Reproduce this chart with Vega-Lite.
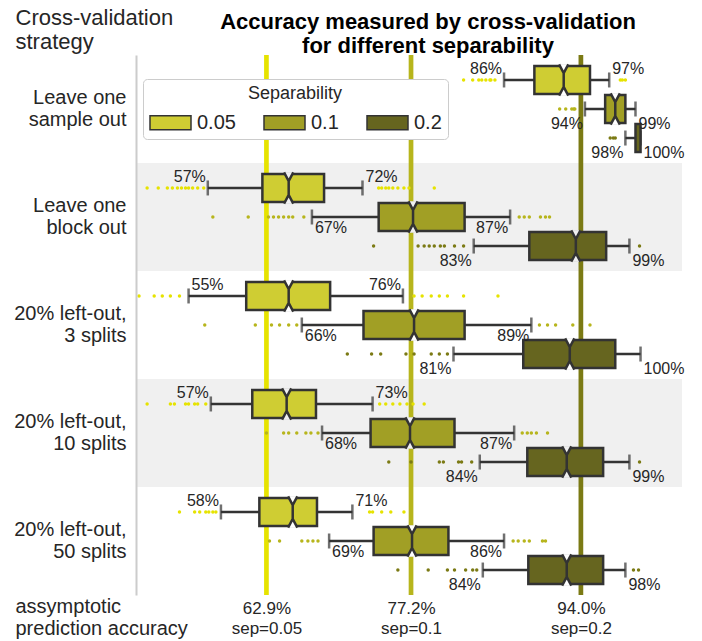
{
  "$schema": "https://vega.github.io/schema/vega-lite/v6.json",
  "width": 546,
  "height": 540,
  "autosize": {"type": "none"},
  "padding": {"left": 136, "top": 55, "right": 20, "bottom": 46},
  "background": "white",
  "config": {"view": {"stroke": null}, "font": "Liberation Sans"},
  "title": {
    "text": ["Accuracy measured by cross-validation", "for different separability"],
    "font": "Liberation Sans",
    "fontSize": 22,
    "fontWeight": "bold",
    "lineHeight": 24,
    "color": "black",
    "anchor": "middle",
    "frame": "group",
    "dx": 19,
    "dy": 56
  },
  "datasets": {
    "boxes": [
      {"strategy": "Leave one sample out", "sep": "0.05", "wlo": 86.4, "q1": 89.4, "med": 92.3, "q3": 94.9, "whi": 96.8, "lolab": "86%", "hilab": "97%"},
      {"strategy": "Leave one sample out", "sep": "0.1", "wlo": 94.4, "q1": 96.4, "med": 97.4, "q3": 98.4, "whi": 99.4, "lolab": "94%", "hilab": "99%"},
      {"strategy": "Leave one sample out", "sep": "0.2", "wlo": 98.4, "q1": 99.4, "med": 99.7, "q3": 99.9, "whi": 99.9, "lolab": "98%", "hilab": "100%"},
      {"strategy": "Leave one block out", "sep": "0.05", "wlo": 57.1, "q1": 62.5, "med": 65.1, "q3": 68.6, "whi": 72.4, "lolab": "57%", "hilab": "72%"},
      {"strategy": "Leave one block out", "sep": "0.1", "wlo": 67.4, "q1": 74.0, "med": 77.4, "q3": 82.5, "whi": 87.0, "lolab": "67%", "hilab": "87%"},
      {"strategy": "Leave one block out", "sep": "0.2", "wlo": 83.4, "q1": 88.9, "med": 93.5, "q3": 96.5, "whi": 98.8, "lolab": "83%", "hilab": "99%"},
      {"strategy": "20% left-out, 3 splits", "sep": "0.05", "wlo": 55.2, "q1": 60.9, "med": 65.1, "q3": 69.2, "whi": 76.4, "lolab": "55%", "hilab": "76%"},
      {"strategy": "20% left-out, 3 splits", "sep": "0.1", "wlo": 66.4, "q1": 72.5, "med": 77.5, "q3": 82.5, "whi": 89.1, "lolab": "66%", "hilab": "89%"},
      {"strategy": "20% left-out, 3 splits", "sep": "0.2", "wlo": 81.4, "q1": 88.3, "med": 92.9, "q3": 97.4, "whi": 99.9, "lolab": "81%", "hilab": "100%"},
      {"strategy": "20% left-out, 10 splits", "sep": "0.05", "wlo": 57.4, "q1": 61.5, "med": 64.9, "q3": 67.8, "whi": 73.4, "lolab": "57%", "hilab": "73%"},
      {"strategy": "20% left-out, 10 splits", "sep": "0.1", "wlo": 68.4, "q1": 73.2, "med": 77.1, "q3": 81.5, "whi": 87.4, "lolab": "68%", "hilab": "87%"},
      {"strategy": "20% left-out, 10 splits", "sep": "0.2", "wlo": 84.0, "q1": 88.7, "med": 92.6, "q3": 96.2, "whi": 98.8, "lolab": "84%", "hilab": "99%"},
      {"strategy": "20% left-out, 50 splits", "sep": "0.05", "wlo": 58.4, "q1": 62.2, "med": 65.5, "q3": 67.9, "whi": 71.4, "lolab": "58%", "hilab": "71%"},
      {"strategy": "20% left-out, 50 splits", "sep": "0.1", "wlo": 69.1, "q1": 73.5, "med": 77.3, "q3": 80.9, "whi": 86.4, "lolab": "69%", "hilab": "86%"},
      {"strategy": "20% left-out, 50 splits", "sep": "0.2", "wlo": 84.3, "q1": 88.8, "med": 92.6, "q3": 96.2, "whi": 98.4, "lolab": "84%", "hilab": "98%"}
    ],
    "asym": [
      {"sep": "0.05", "acc": 62.9},
      {"sep": "0.1", "acc": 77.2},
      {"sep": "0.2", "acc": 94.0}
    ],
    "dots": [
      {"strategy": "Leave one sample out", "sep": "0.05", "acc": 82.4},
      {"strategy": "Leave one sample out", "sep": "0.05", "acc": 83.3},
      {"strategy": "Leave one sample out", "sep": "0.05", "acc": 83.9},
      {"strategy": "Leave one sample out", "sep": "0.05", "acc": 84.2},
      {"strategy": "Leave one sample out", "sep": "0.05", "acc": 84.6},
      {"strategy": "Leave one sample out", "sep": "0.05", "acc": 85.0},
      {"strategy": "Leave one sample out", "sep": "0.05", "acc": 85.1},
      {"strategy": "Leave one sample out", "sep": "0.05", "acc": 85.5},
      {"strategy": "Leave one sample out", "sep": "0.05", "acc": 97.9},
      {"strategy": "Leave one sample out", "sep": "0.05", "acc": 98.1},
      {"strategy": "Leave one sample out", "sep": "0.05", "acc": 98.4},
      {"strategy": "Leave one sample out", "sep": "0.1", "acc": 91.9},
      {"strategy": "Leave one sample out", "sep": "0.1", "acc": 92.5},
      {"strategy": "Leave one sample out", "sep": "0.1", "acc": 93.1},
      {"strategy": "Leave one sample out", "sep": "0.1", "acc": 93.3},
      {"strategy": "Leave one sample out", "sep": "0.1", "acc": 93.4},
      {"strategy": "Leave one sample out", "sep": "0.2", "acc": 96.9},
      {"strategy": "Leave one sample out", "sep": "0.2", "acc": 97.2},
      {"strategy": "Leave one sample out", "sep": "0.2", "acc": 97.4},
      {"strategy": "Leave one block out", "sep": "0.05", "acc": 51.1},
      {"strategy": "Leave one block out", "sep": "0.05", "acc": 52.2},
      {"strategy": "Leave one block out", "sep": "0.05", "acc": 53.1},
      {"strategy": "Leave one block out", "sep": "0.05", "acc": 53.6},
      {"strategy": "Leave one block out", "sep": "0.05", "acc": 54.1},
      {"strategy": "Leave one block out", "sep": "0.05", "acc": 54.5},
      {"strategy": "Leave one block out", "sep": "0.05", "acc": 54.9},
      {"strategy": "Leave one block out", "sep": "0.05", "acc": 55.2},
      {"strategy": "Leave one block out", "sep": "0.05", "acc": 55.6},
      {"strategy": "Leave one block out", "sep": "0.05", "acc": 56.1},
      {"strategy": "Leave one block out", "sep": "0.05", "acc": 56.7},
      {"strategy": "Leave one block out", "sep": "0.05", "acc": 74.0},
      {"strategy": "Leave one block out", "sep": "0.05", "acc": 74.3},
      {"strategy": "Leave one block out", "sep": "0.05", "acc": 74.7},
      {"strategy": "Leave one block out", "sep": "0.05", "acc": 75.0},
      {"strategy": "Leave one block out", "sep": "0.05", "acc": 75.4},
      {"strategy": "Leave one block out", "sep": "0.05", "acc": 75.9},
      {"strategy": "Leave one block out", "sep": "0.05", "acc": 76.5},
      {"strategy": "Leave one block out", "sep": "0.05", "acc": 77.0},
      {"strategy": "Leave one block out", "sep": "0.05", "acc": 79.5},
      {"strategy": "Leave one block out", "sep": "0.1", "acc": 57.6},
      {"strategy": "Leave one block out", "sep": "0.1", "acc": 61.1},
      {"strategy": "Leave one block out", "sep": "0.1", "acc": 63.1},
      {"strategy": "Leave one block out", "sep": "0.1", "acc": 63.6},
      {"strategy": "Leave one block out", "sep": "0.1", "acc": 64.1},
      {"strategy": "Leave one block out", "sep": "0.1", "acc": 64.6},
      {"strategy": "Leave one block out", "sep": "0.1", "acc": 65.1},
      {"strategy": "Leave one block out", "sep": "0.1", "acc": 65.5},
      {"strategy": "Leave one block out", "sep": "0.1", "acc": 66.6},
      {"strategy": "Leave one block out", "sep": "0.1", "acc": 87.9},
      {"strategy": "Leave one block out", "sep": "0.1", "acc": 88.4},
      {"strategy": "Leave one block out", "sep": "0.1", "acc": 88.9},
      {"strategy": "Leave one block out", "sep": "0.1", "acc": 90.0},
      {"strategy": "Leave one block out", "sep": "0.1", "acc": 90.5},
      {"strategy": "Leave one block out", "sep": "0.1", "acc": 90.9},
      {"strategy": "Leave one block out", "sep": "0.2", "acc": 73.5},
      {"strategy": "Leave one block out", "sep": "0.2", "acc": 77.9},
      {"strategy": "Leave one block out", "sep": "0.2", "acc": 78.5},
      {"strategy": "Leave one block out", "sep": "0.2", "acc": 79.0},
      {"strategy": "Leave one block out", "sep": "0.2", "acc": 79.5},
      {"strategy": "Leave one block out", "sep": "0.2", "acc": 80.1},
      {"strategy": "Leave one block out", "sep": "0.2", "acc": 80.5},
      {"strategy": "Leave one block out", "sep": "0.2", "acc": 81.5},
      {"strategy": "Leave one block out", "sep": "0.2", "acc": 82.4},
      {"strategy": "Leave one block out", "sep": "0.2", "acc": 99.8},
      {"strategy": "20% left-out, 3 splits", "sep": "0.05", "acc": 50.3},
      {"strategy": "20% left-out, 3 splits", "sep": "0.05", "acc": 51.8},
      {"strategy": "20% left-out, 3 splits", "sep": "0.05", "acc": 52.6},
      {"strategy": "20% left-out, 3 splits", "sep": "0.05", "acc": 53.4},
      {"strategy": "20% left-out, 3 splits", "sep": "0.05", "acc": 54.3},
      {"strategy": "20% left-out, 3 splits", "sep": "0.05", "acc": 77.5},
      {"strategy": "20% left-out, 3 splits", "sep": "0.05", "acc": 78.3},
      {"strategy": "20% left-out, 3 splits", "sep": "0.05", "acc": 79.2},
      {"strategy": "20% left-out, 3 splits", "sep": "0.05", "acc": 80.0},
      {"strategy": "20% left-out, 3 splits", "sep": "0.05", "acc": 80.8},
      {"strategy": "20% left-out, 3 splits", "sep": "0.05", "acc": 82.4},
      {"strategy": "20% left-out, 3 splits", "sep": "0.05", "acc": 85.8},
      {"strategy": "20% left-out, 3 splits", "sep": "0.1", "acc": 56.8},
      {"strategy": "20% left-out, 3 splits", "sep": "0.1", "acc": 61.8},
      {"strategy": "20% left-out, 3 splits", "sep": "0.1", "acc": 63.4},
      {"strategy": "20% left-out, 3 splits", "sep": "0.1", "acc": 64.2},
      {"strategy": "20% left-out, 3 splits", "sep": "0.1", "acc": 65.1},
      {"strategy": "20% left-out, 3 splits", "sep": "0.1", "acc": 65.9},
      {"strategy": "20% left-out, 3 splits", "sep": "0.1", "acc": 89.9},
      {"strategy": "20% left-out, 3 splits", "sep": "0.1", "acc": 90.7},
      {"strategy": "20% left-out, 3 splits", "sep": "0.1", "acc": 91.5},
      {"strategy": "20% left-out, 3 splits", "sep": "0.1", "acc": 93.2},
      {"strategy": "20% left-out, 3 splits", "sep": "0.1", "acc": 94.9},
      {"strategy": "20% left-out, 3 splits", "sep": "0.2", "acc": 70.9},
      {"strategy": "20% left-out, 3 splits", "sep": "0.2", "acc": 73.3},
      {"strategy": "20% left-out, 3 splits", "sep": "0.2", "acc": 74.2},
      {"strategy": "20% left-out, 3 splits", "sep": "0.2", "acc": 76.7},
      {"strategy": "20% left-out, 3 splits", "sep": "0.2", "acc": 77.5},
      {"strategy": "20% left-out, 3 splits", "sep": "0.2", "acc": 79.2},
      {"strategy": "20% left-out, 3 splits", "sep": "0.2", "acc": 80.0},
      {"strategy": "20% left-out, 3 splits", "sep": "0.2", "acc": 80.8},
      {"strategy": "20% left-out, 10 splits", "sep": "0.05", "acc": 51.1},
      {"strategy": "20% left-out, 10 splits", "sep": "0.05", "acc": 53.4},
      {"strategy": "20% left-out, 10 splits", "sep": "0.05", "acc": 53.8},
      {"strategy": "20% left-out, 10 splits", "sep": "0.05", "acc": 54.9},
      {"strategy": "20% left-out, 10 splits", "sep": "0.05", "acc": 55.2},
      {"strategy": "20% left-out, 10 splits", "sep": "0.05", "acc": 55.8},
      {"strategy": "20% left-out, 10 splits", "sep": "0.05", "acc": 56.1},
      {"strategy": "20% left-out, 10 splits", "sep": "0.05", "acc": 56.9},
      {"strategy": "20% left-out, 10 splits", "sep": "0.05", "acc": 74.1},
      {"strategy": "20% left-out, 10 splits", "sep": "0.05", "acc": 74.7},
      {"strategy": "20% left-out, 10 splits", "sep": "0.05", "acc": 75.4},
      {"strategy": "20% left-out, 10 splits", "sep": "0.05", "acc": 76.1},
      {"strategy": "20% left-out, 10 splits", "sep": "0.05", "acc": 76.8},
      {"strategy": "20% left-out, 10 splits", "sep": "0.05", "acc": 77.4},
      {"strategy": "20% left-out, 10 splits", "sep": "0.05", "acc": 78.5},
      {"strategy": "20% left-out, 10 splits", "sep": "0.1", "acc": 62.9},
      {"strategy": "20% left-out, 10 splits", "sep": "0.1", "acc": 64.6},
      {"strategy": "20% left-out, 10 splits", "sep": "0.1", "acc": 65.1},
      {"strategy": "20% left-out, 10 splits", "sep": "0.1", "acc": 65.9},
      {"strategy": "20% left-out, 10 splits", "sep": "0.1", "acc": 66.8},
      {"strategy": "20% left-out, 10 splits", "sep": "0.1", "acc": 67.3},
      {"strategy": "20% left-out, 10 splits", "sep": "0.1", "acc": 68.0},
      {"strategy": "20% left-out, 10 splits", "sep": "0.1", "acc": 88.2},
      {"strategy": "20% left-out, 10 splits", "sep": "0.1", "acc": 88.7},
      {"strategy": "20% left-out, 10 splits", "sep": "0.1", "acc": 89.1},
      {"strategy": "20% left-out, 10 splits", "sep": "0.1", "acc": 89.6},
      {"strategy": "20% left-out, 10 splits", "sep": "0.1", "acc": 90.7},
      {"strategy": "20% left-out, 10 splits", "sep": "0.2", "acc": 75.0},
      {"strategy": "20% left-out, 10 splits", "sep": "0.2", "acc": 77.2},
      {"strategy": "20% left-out, 10 splits", "sep": "0.2", "acc": 80.0},
      {"strategy": "20% left-out, 10 splits", "sep": "0.2", "acc": 80.4},
      {"strategy": "20% left-out, 10 splits", "sep": "0.2", "acc": 81.9},
      {"strategy": "20% left-out, 10 splits", "sep": "0.2", "acc": 82.2},
      {"strategy": "20% left-out, 10 splits", "sep": "0.2", "acc": 83.2},
      {"strategy": "20% left-out, 10 splits", "sep": "0.2", "acc": 99.8},
      {"strategy": "20% left-out, 50 splits", "sep": "0.05", "acc": 54.3},
      {"strategy": "20% left-out, 50 splits", "sep": "0.05", "acc": 55.8},
      {"strategy": "20% left-out, 50 splits", "sep": "0.05", "acc": 56.3},
      {"strategy": "20% left-out, 50 splits", "sep": "0.05", "acc": 56.9},
      {"strategy": "20% left-out, 50 splits", "sep": "0.05", "acc": 57.2},
      {"strategy": "20% left-out, 50 splits", "sep": "0.05", "acc": 57.6},
      {"strategy": "20% left-out, 50 splits", "sep": "0.05", "acc": 57.9},
      {"strategy": "20% left-out, 50 splits", "sep": "0.05", "acc": 73.1},
      {"strategy": "20% left-out, 50 splits", "sep": "0.05", "acc": 73.4},
      {"strategy": "20% left-out, 50 splits", "sep": "0.05", "acc": 74.3},
      {"strategy": "20% left-out, 50 splits", "sep": "0.05", "acc": 75.2},
      {"strategy": "20% left-out, 50 splits", "sep": "0.05", "acc": 76.5},
      {"strategy": "20% left-out, 50 splits", "sep": "0.1", "acc": 63.2},
      {"strategy": "20% left-out, 50 splits", "sep": "0.1", "acc": 64.2},
      {"strategy": "20% left-out, 50 splits", "sep": "0.1", "acc": 66.4},
      {"strategy": "20% left-out, 50 splits", "sep": "0.1", "acc": 67.0},
      {"strategy": "20% left-out, 50 splits", "sep": "0.1", "acc": 67.5},
      {"strategy": "20% left-out, 50 splits", "sep": "0.1", "acc": 68.0},
      {"strategy": "20% left-out, 50 splits", "sep": "0.1", "acc": 87.3},
      {"strategy": "20% left-out, 50 splits", "sep": "0.1", "acc": 87.8},
      {"strategy": "20% left-out, 50 splits", "sep": "0.1", "acc": 88.4},
      {"strategy": "20% left-out, 50 splits", "sep": "0.1", "acc": 88.9},
      {"strategy": "20% left-out, 50 splits", "sep": "0.1", "acc": 90.2},
      {"strategy": "20% left-out, 50 splits", "sep": "0.1", "acc": 90.5},
      {"strategy": "20% left-out, 50 splits", "sep": "0.2", "acc": 75.9},
      {"strategy": "20% left-out, 50 splits", "sep": "0.2", "acc": 78.9},
      {"strategy": "20% left-out, 50 splits", "sep": "0.2", "acc": 80.8},
      {"strategy": "20% left-out, 50 splits", "sep": "0.2", "acc": 81.5},
      {"strategy": "20% left-out, 50 splits", "sep": "0.2", "acc": 82.6},
      {"strategy": "20% left-out, 50 splits", "sep": "0.2", "acc": 83.3},
      {"strategy": "20% left-out, 50 splits", "sep": "0.2", "acc": 83.7},
      {"strategy": "20% left-out, 50 splits", "sep": "0.2", "acc": 99.2},
      {"strategy": "20% left-out, 50 splits", "sep": "0.2", "acc": 99.7}
    ]
  },
  "layer": [
    {
      "data": {"name": "boxes"},
      "transform": [{"filter": "datum.sep == '0.05' && (datum.strategy == 'Leave one block out' || datum.strategy == '20% left-out, 10 splits')"}],
      "mark": {"type": "rect", "color": "#f0f0f0"},
      "encoding": {
        "x": {
          "datum": 50, "type": "quantitative",
          "scale": {"domain": [50, 104], "nice": false, "zero": false},
          "axis": {
            "values": [62.9, 77.2, 94.0],
            "labelExpr": "[format(datum.value, '.1f') + '%', datum.value < 70 ? 'sep=0.05' : (datum.value < 85 ? 'sep=0.1' : 'sep=0.2')]",
            "labelFontSize": 17, "labelLineHeight": 20, "labelColor": "#262626",
            "labelBaseline": "alphabetic", "labelPadding": 18,
            "labelFlush": false, "labelOverlap": false,
            "domain": false, "ticks": false, "grid": false,
            "title": ["assymptotic", "prediction accuracy"],
            "titleFontSize": 20, "titleFontWeight": "normal", "titleColor": "#262626",
            "titleLineHeight": 22, "titleAlign": "left", "titleAnchor": "start",
            "titleBaseline": "alphabetic", "titleX": -121, "titleY": 17, "titleAngle": 0
          }
        },
        "x2": {"datum": 104},
        "y": {
          "field": "strategy", "type": "nominal",
          "scale": {"domain": ["Leave one sample out", "Leave one block out", "20% left-out, 3 splits", "20% left-out, 10 splits", "20% left-out, 50 splits"], "paddingInner": 0, "paddingOuter": 0},
          "axis": {
            "labelExpr": "indexof(datum.label, 'Leave') == 0 ? [substring(datum.label, 0, 9), substring(datum.label, 10)] : [substring(datum.label, 0, 13), substring(datum.label, 14)]",
            "labelFontSize": 20, "labelLineHeight": 22, "labelColor": "#262626",
            "labelPadding": 10, "labelBaseline": "middle", "labelOffset": -11,
            "ticks": false, "grid": false,
            "domain": true, "domainColor": "#cccccc", "domainWidth": 2,
            "title": ["Cross-validation", "strategy"],
            "titleFontSize": 22, "titleFontWeight": "normal", "titleColor": "#262626",
            "titleLineHeight": 24, "titleAngle": 0, "titleAlign": "left", "titleAnchor": "start",
            "titleBaseline": "alphabetic", "titleX": -121, "titleY": -31
          }
        }
      }
    },
    {
      "data": {"name": "asym"},
      "mark": {"type": "rule", "strokeWidth": 4.7},
      "encoding": {
        "x": {"field": "acc", "type": "quantitative"},
        "color": {
          "condition": [
            {"test": "datum.sep == '0.05'", "value": "#e6e300"},
            {"test": "datum.sep == '0.1'", "value": "#b7b51c"}
          ],
          "value": "#7b7a14"
        }
      }
    },
    {
      "data": {"name": "dots"},
      "mark": {"type": "point", "filled": true, "size": 12, "opacity": 1},
      "encoding": {
        "x": {"field": "acc", "type": "quantitative"},
        "y": {"field": "strategy", "type": "nominal"},
        "yOffset": {"field": "sep", "type": "nominal", "scale": {"domain": ["0.05", "0.1", "0.2"], "paddingInner": 0, "paddingOuter": 0.36}},
        "color": {
          "condition": [
            {"test": "datum.sep == '0.05'", "value": "#e6e300"},
            {"test": "datum.sep == '0.1'", "value": "#b7b51c"}
          ],
          "value": "#7b7a14"
        }
      }
    },
    {
      "data": {"name": "boxes"},
      "mark": {"type": "rule", "color": "#333333", "strokeWidth": 2.5},
      "encoding": {
        "x": {"field": "wlo", "type": "quantitative"},
        "x2": {"field": "whi"},
        "y": {"field": "strategy", "type": "nominal"},
        "yOffset": {"field": "sep", "type": "nominal"}
      }
    },
    {
      "data": {"name": "boxes"},
      "mark": {"type": "tick", "color": "#333333", "thickness": 2.5, "size": 15, "orient": "vertical"},
      "encoding": {
        "x": {"field": "wlo", "type": "quantitative"},
        "y": {"field": "strategy", "type": "nominal"},
        "yOffset": {"field": "sep", "type": "nominal"}
      }
    },
    {
      "data": {"name": "boxes"},
      "mark": {"type": "tick", "color": "#333333", "thickness": 2.5, "size": 15, "orient": "vertical"},
      "encoding": {
        "x": {"field": "whi", "type": "quantitative"},
        "y": {"field": "strategy", "type": "nominal"},
        "yOffset": {"field": "sep", "type": "nominal"}
      }
    },
    {
      "data": {"name": "boxes"},
      "mark": {"type": "bar", "stroke": "#333333", "strokeWidth": 2.5, "size": 28, "opacity": 1},
      "encoding": {
        "x": {"field": "q1", "type": "quantitative"},
        "x2": {"field": "q3"},
        "y": {"field": "strategy", "type": "nominal"},
        "yOffset": {"field": "sep", "type": "nominal"},
        "fill": {
          "field": "sep", "type": "nominal",
          "scale": {"domain": ["0.05", "0.1", "0.2"], "range": ["#cfcd33", "#a19f25", "#66651f"]},
          "legend": {
            "title": "Separability", "orient": "none", "legendX": 7, "legendY": 24,
            "direction": "horizontal", "titleAnchor": "middle",
            "titleFontSize": 18, "titleFontWeight": "normal", "titleColor": "#262626", "titlePadding": -2,
            "labelFontSize": 20, "labelColor": "#262626", "labelOffset": 5,
            "symbolType": "M-1,-0.34H1V0.34H-1Z", "symbolSize": 1681,
            "symbolStrokeColor": "#333333", "symbolStrokeWidth": 1.5, "symbolOpacity": 1,
            "columnPadding": 25, "padding": 6, "fillColor": "white", "strokeColor": "#cccccc", "cornerRadius": 4
          }
        }
      }
    },
    {
      "data": {"name": "boxes"},
      "transform": [{"filter": "!(datum.sep == '0.2' && datum.strategy == 'Leave one sample out')"}],
      "mark": {"type": "point", "shape": "M-0.33,-1.12L0,-0.5L0.33,-1.12M-0.33,1.12L0,0.5L0.33,1.12M0,-0.5L0,0.5", "size": 784, "filled": true, "opacity": 1, "stroke": "#333333", "strokeWidth": 2.5},
      "encoding": {
        "x": {"field": "med", "type": "quantitative"},
        "y": {"field": "strategy", "type": "nominal"},
        "yOffset": {"field": "sep", "type": "nominal"},
        "fill": {"condition": {"test": "datum.strategy == 'Leave one block out' || datum.strategy == '20% left-out, 10 splits'", "value": "#f0f0f0"}, "value": "#ffffff"}
      }
    },
    {
      "data": {"name": "boxes"},
      "transform": [{"filter": "datum.sep == '0.05' && datum.strategy != '20% left-out, 3 splits'"}],
      "mark": {"type": "text", "align": "right", "baseline": "middle", "dx": -2, "dy": -11, "fontSize": 16, "color": "#262626"},
      "encoding": {"x": {"field": "wlo", "type": "quantitative"}, "y": {"field": "strategy", "type": "nominal"}, "yOffset": {"field": "sep", "type": "nominal"}, "text": {"field": "lolab"}}
    },
    {
      "data": {"name": "boxes"},
      "transform": [{"filter": "datum.sep == '0.05' && datum.strategy != '20% left-out, 3 splits'"}],
      "mark": {"type": "text", "align": "left", "baseline": "middle", "dx": 3, "dy": -11, "fontSize": 16, "color": "#262626"},
      "encoding": {"x": {"field": "whi", "type": "quantitative"}, "y": {"field": "strategy", "type": "nominal"}, "yOffset": {"field": "sep", "type": "nominal"}, "text": {"field": "hilab"}}
    },
    {
      "data": {"name": "boxes"},
      "transform": [{"filter": "datum.sep == '0.05' && datum.strategy == '20% left-out, 3 splits'"}],
      "mark": {"type": "text", "align": "left", "baseline": "middle", "dx": 3, "dy": -11, "fontSize": 16, "color": "#262626"},
      "encoding": {"x": {"field": "wlo", "type": "quantitative"}, "y": {"field": "strategy", "type": "nominal"}, "yOffset": {"field": "sep", "type": "nominal"}, "text": {"field": "lolab"}}
    },
    {
      "data": {"name": "boxes"},
      "transform": [{"filter": "datum.sep == '0.05' && datum.strategy == '20% left-out, 3 splits'"}],
      "mark": {"type": "text", "align": "right", "baseline": "middle", "dx": -2, "dy": -11, "fontSize": 16, "color": "#262626"},
      "encoding": {"x": {"field": "whi", "type": "quantitative"}, "y": {"field": "strategy", "type": "nominal"}, "yOffset": {"field": "sep", "type": "nominal"}, "text": {"field": "hilab"}}
    },
    {
      "data": {"name": "boxes"},
      "transform": [{"filter": "datum.sep == '0.1' && datum.strategy != 'Leave one sample out'"}],
      "mark": {"type": "text", "align": "left", "baseline": "middle", "dx": 3, "dy": 11, "fontSize": 16, "color": "#262626"},
      "encoding": {"x": {"field": "wlo", "type": "quantitative"}, "y": {"field": "strategy", "type": "nominal"}, "yOffset": {"field": "sep", "type": "nominal"}, "text": {"field": "lolab"}}
    },
    {
      "data": {"name": "boxes"},
      "transform": [{"filter": "datum.sep == '0.1' && datum.strategy != 'Leave one sample out'"}],
      "mark": {"type": "text", "align": "right", "baseline": "middle", "dx": -2, "dy": 11, "fontSize": 16, "color": "#262626"},
      "encoding": {"x": {"field": "whi", "type": "quantitative"}, "y": {"field": "strategy", "type": "nominal"}, "yOffset": {"field": "sep", "type": "nominal"}, "text": {"field": "hilab"}}
    },
    {
      "data": {"name": "boxes"},
      "transform": [{"filter": "datum.sep == '0.2' || (datum.sep == '0.1' && datum.strategy == 'Leave one sample out')"}],
      "mark": {"type": "text", "align": "right", "baseline": "middle", "dx": -2, "dy": 15, "fontSize": 16, "color": "#262626"},
      "encoding": {"x": {"field": "wlo", "type": "quantitative"}, "y": {"field": "strategy", "type": "nominal"}, "yOffset": {"field": "sep", "type": "nominal"}, "text": {"field": "lolab"}}
    },
    {
      "data": {"name": "boxes"},
      "transform": [{"filter": "datum.sep == '0.2' || (datum.sep == '0.1' && datum.strategy == 'Leave one sample out')"}],
      "mark": {"type": "text", "align": "left", "baseline": "middle", "dx": 3, "dy": 15, "fontSize": 16, "color": "#262626"},
      "encoding": {"x": {"field": "whi", "type": "quantitative"}, "y": {"field": "strategy", "type": "nominal"}, "yOffset": {"field": "sep", "type": "nominal"}, "text": {"field": "hilab"}}
    }
  ]
}
